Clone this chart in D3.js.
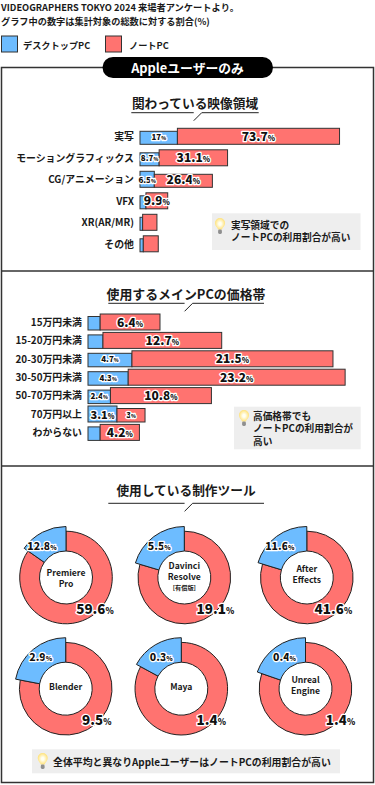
<!DOCTYPE html>
<html><head><meta charset="utf-8">
<script src="https://cdn.jsdelivr.net/npm/d3@7"></script>
<style>
html,body{margin:0;padding:0;background:#fff}
svg{display:block}
text{font-family:"Noto Sans CJK JP","Noto Sans",sans-serif;font-weight:700;fill:#1a1a1a}
.o{paint-order:stroke;stroke:#fff;stroke-width:2.6px;stroke-linejoin:round;font-weight:900;fill:#111}
</style></head><body><svg id="c" width="375" height="785"></svg>
<script>
const legendLabels=["デスクトップPC","ノートPC"];
const roleCats=["実写","モーショングラフィックス","CG/アニメーション","VFX","XR(AR/MR)","その他"];
const roleDesktop=[17,8.7,6.5,2.7,1.2,1.5];
const roleLaptop=[73.7,31.1,26.4,9.9,6.5,6.8];
const roleDesktopLabels=["17","8.7","6.5","","",""];
const roleLaptopLabels=["73.7","31.1","26.4","9.9","",""];
const priceCats=["15万円未満","15-20万円未満","20-30万円未満","30-50万円未満","50-70万円未満","70万円以上","わからない"];
const priceDesktop=[1.3,1.6,4.7,4.3,2.4,3.1,1.3];
const priceLaptop=[6.4,12.7,21.5,23.2,10.8,3,4.2];
const priceDesktopLabels=["","","4.7","4.3","2.4","3.1",""];
const priceLaptopLabels=["6.4","12.7","21.5","23.2","10.8","3","4.2"];
const toolNames=[["Premiere","Pro"],["Davinci","Resolve"],["After","Effects"],["Blender"],["Maya"],["Unreal","Engine"]];
const toolDesktopLabels=["12.8","5.5","11.6","2.9","0.3","0.4"];
const toolLaptopLabels=["59.6","19.1","41.6","9.5","1.4","1.4"];
const toolDesktopShare=[15.3,20.4,20.3,22,17.1,19.7];
const C={blue:"#6dbcff",red:"#ff7370",line:"#333"};
const svg=d3.select("#c");
const defs=svg.append("defs");
const rg=defs.append("radialGradient").attr("id","bulbG");
rg.append("stop").attr("offset","25%").attr("stop-color","#fffff2");
rg.append("stop").attr("offset","100%").attr("stop-color","#ffe27a");
function txt(x,y,s,size,anchor,cls,g){return (g||svg).append("text").attr("x",x).attr("y",y).attr("font-size",size).attr("text-anchor",anchor||"start").attr("class",cls||"").text(s);}
function pct(g,x,y,v,size){
  const t=g.append("text").attr("x",x).attr("y",y).attr("font-size",size).attr("text-anchor","middle").attr("class","o");
  t.append("tspan").text(v);
  t.append("tspan").attr("font-size",size*0.62).text("%");
}
function bulb(x,y){
  const g=svg.append("g").attr("transform",`translate(${x},${y})`);
  g.append("path").attr("d","M-2,3.5C-2,1.8-5,0.5-5,-3A5,5 0 0 1 5,-3C5,0.5 2,1.8 2,3.5Z").attr("fill","url(#bulbG)");
  g.append("rect").attr("x",-1.9).attr("y",3.5).attr("width",3.8).attr("height",4.5).attr("rx",1.4).attr("fill","#8f8f8f");
}
// header
txt(1,11,"VIDEOGRAPHERS TOKYO 2024 来場者アンケートより。",9.25);
txt(1,25,"グラフ中の数字は集計対象の総数に対する割合(%)",9.2);
svg.append("rect").attr("x",1.5).attr("y",36).attr("width",16).attr("height",16).attr("fill",C.blue).attr("stroke",C.line);
txt(23,49,legendLabels[0],9.2);
svg.append("rect").attr("x",105.5).attr("y",36).attr("width",16).attr("height",16).attr("fill",C.red).attr("stroke",C.line);
txt(129,49,legendLabels[1],9.2);
// frame
svg.append("rect").attr("x",1.5).attr("y",67.5).attr("width",372).attr("height",715).attr("fill","none").attr("stroke",C.line).attr("stroke-width",1.5);
[271,466].forEach(y=>svg.append("line").attr("x1",1).attr("x2",374).attr("y1",y).attr("y2",y).attr("stroke",C.line).attr("stroke-width",1.5));
svg.append("rect").attr("x",102.5).attr("y",57).attr("width",170.5).attr("height",21).attr("rx",10.5).attr("fill","#000");
txt(187.5,72.5,"Appleユーザーのみ",12.8,"middle").style("fill","#fff");
function title(cx,y,s,x1,x2,ly,size){
  txt(cx,y,s,size,"middle");
  const m=x1+(x2-x1)*0.49;
  svg.append("path").attr("d",`M${x1},${ly}H${m}M${m+8},${ly}H${x2}M${m+8},${ly}L${m},${ly+8}`).attr("fill","none").attr("stroke","#222").attr("stroke-width",1);
}
title(195,108,"関わっている映像領域",131.3,258.7,112.7,12.7);
title(186,299,"使用するメインPCの価格帯",108.3,264,303.3,12.9);
title(186,495,"使用している制作ツール",108.3,264,503.3,12.7);
function bars(cats,d,l,dl,ll,x0,pxPer,top,step,h,labelX,inset,tallDesktop){
  const x=d3.scaleLinear().domain([0,1]).range([x0,x0+pxPer]);
  const y=d3.scaleBand().domain(cats).range([top,top+step*cats.length]).paddingInner(0).paddingOuter(0);
  const g=svg.append("g");
  cats.forEach((c,i)=>{
    const yy=y(c), tall=tallDesktop.includes(i), big=dl[i]==="3.1";
    txt(labelX,yy+h/2+3.8,c,9.9,"end","",g);
    g.append("rect").attr("x",x(0)).attr("y",yy+(tall?0:inset)).attr("width",x(d[i])-x(0)).attr("height",h-(tall?0:inset)).attr("fill",C.blue).attr("stroke",C.line).attr("stroke-width",1);
    g.append("rect").attr("x",x(d[i])).attr("y",yy+(tall?inset:0)).attr("width",x(d[i]+l[i])-x(d[i])).attr("height",h-(tall?inset:0)).attr("fill",C.red).attr("stroke",C.line).attr("stroke-width",1);
    if(dl[i]) pct(g,(x(0)+x(d[i]))/2,yy+h/2+(big?4.5:3.5),dl[i],big?11:8);
    if(ll[i]){const sm=l[i]<4;pct(g,(x(d[i])+x(d[i]+l[i]))/2,yy+h/2+(sm?3.5:4.5),ll[i],sm?8:12);}
  });
}
bars(roleCats,roleDesktop,roleLaptop,roleDesktopLabels,roleLaptopLabels,140,2.2,128.3,21.5,16,134,3,[2]);
bars(priceCats,priceDesktop,priceLaptop,priceDesktopLabels,priceLaptopLabels,88,9.35,314,18.4,16,82,2.5,[5]);
// callouts
function note(x,y,w,h,lines,bx,by,tx,ty,lh,fs){
  svg.append("rect").attr("x",x).attr("y",y).attr("width",w).attr("height",h).attr("fill","#eee");
  bulb(bx,by);
  lines.forEach((s,i)=>txt(tx,ty+i*lh,s,fs));
}
note(212,213.3,148.5,36.7,["実写領域での","ノートPCの利用割合が高い"],220,226,231,228.5,12.7,9.7);
note(234,406.7,126.7,42.6,["高価格帯でも","ノートPCの利用割合が","高い"],244,418,253,419.5,12.7,9.7);
note(32,749.3,308,24,["全体平均と異なりAppleユーザーはノートPCの利用割合が高い"],42.7,761,53,766.3,15,9.9);
// donuts
const centers=[[66,577.5],[184.3,577.5],[306.8,577.5],[65.7,688.7],[181.3,688.7],[305.5,688.7]];
const nameTop=[-2,-9,-6,1.5,1.5,-6];
const bluePos=[[-24,-28],[-25,-28],[-27,-28],[-25,-28],[-20,-28],[-21,-28]];
const redPos=[[29,36],[31,36],[26.5,36],[31,36],[30,36],[35,36]];
const pie=d3.pie().sort(null);
toolNames.forEach((n,i)=>{
  const g=svg.append("g").attr("transform",`translate(${centers[i]})`);
  const share=toolDesktopShare[i];
  const arcs=pie([100-share,share]);
  g.append("path").attr("d",d3.arc().innerRadius(26.5).outerRadius(46.3)(arcs[0])).attr("fill",C.red).attr("stroke","#222");
  g.append("path").attr("d",d3.arc().innerRadius(26.5).outerRadius(51)(arcs[1])).attr("fill",C.blue).attr("stroke","#222");
  n.forEach((s,k)=>txt(0,nameTop[i]+k*11,s,8.6,"middle","",g));
  if(i===1) txt(0,nameTop[i]+21.5,"[有償版]",6.2,"middle","",g);
  pct(g,bluePos[i][0],bluePos[i][1],toolDesktopLabels[i],10.5);
  pct(g,redPos[i][0],redPos[i][1],toolLaptopLabels[i],13.5);
});
</script></body></html>
